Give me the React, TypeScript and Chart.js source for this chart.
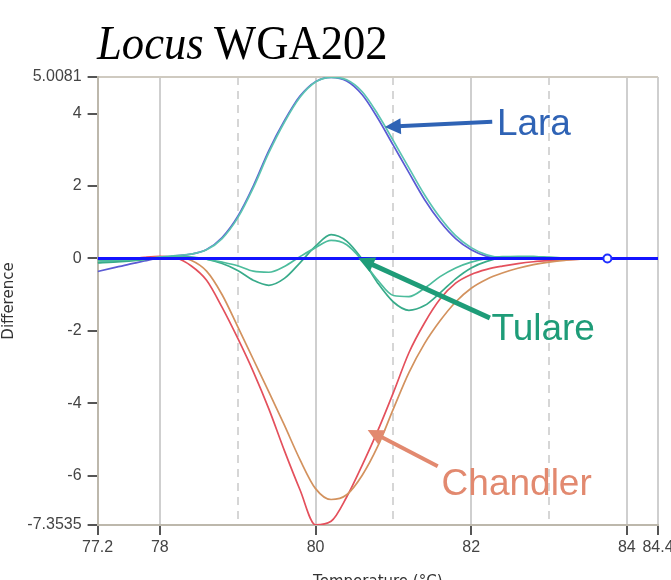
import React, { useEffect, useRef } from 'react';
import { Chart, registerables } from 'chart.js';
Chart.register(...registerables);

// ---- data ----
const TEMPS = [77.2, 77.4, 77.6, 77.8, 78.0, 78.2, 78.4, 78.6, 78.8, 79.0, 79.2, 79.4, 79.6, 79.8, 80.0, 80.2, 80.4, 80.6, 80.8, 81.0, 81.2, 81.4, 81.6, 81.8, 82.0, 82.2, 82.4, 82.6, 82.8, 83.0, 83.2, 83.4, 83.6, 83.8, 84.0, 84.2, 84.4];

const LARA_1 = [-0.36, -0.26, -0.16, -0.07, 0.02, 0.07, 0.12, 0.25, 0.58, 1.16, 2.0, 2.98, 3.8, 4.48, 4.88, 5.0, 4.9, 4.52, 3.87, 3.12, 2.37, 1.63, 1.02, 0.55, 0.24, 0.06, 0.01, 0, 0, 0, 0, 0, 0, 0, 0, 0, 0];
const LARA_2 = [-0.1, -0.08, -0.05, -0.02, 0.04, 0.08, 0.12, 0.24, 0.55, 1.12, 1.95, 2.92, 3.76, 4.45, 4.87, 5.0, 4.93, 4.6, 3.98, 3.25, 2.5, 1.76, 1.13, 0.63, 0.3, 0.1, 0.03, 0.03, 0.03, 0.02, 0.01, 0, 0, 0, 0, 0.02, 0.02];
const TULARE_1 = [-0.12, -0.1, -0.07, -0.03, 0.02, 0.05, 0.04, -0.02, -0.14, -0.33, -0.6, -0.74, -0.55, -0.12, 0.34, 0.66, 0.48, -0.02, -0.68, -1.2, -1.43, -1.3, -0.95, -0.56, -0.26, -0.08, 0.02, 0.05, 0.05, 0.03, 0.01, 0, 0, 0, 0.01, 0.02, 0.02];
const TULARE_2 = [-0.05, -0.05, -0.04, -0.02, 0.03, 0.05, 0.03, -0.02, -0.1, -0.2, -0.35, -0.38, -0.22, 0.05, 0.3, 0.5, 0.38, -0.05, -0.6, -1.02, -1.05, -0.82, -0.5, -0.26, -0.1, 0.0, 0.05, 0.05, 0.05, 0.03, 0.01, 0, 0, 0, 0.01, 0.02, 0.02];
const CHANDLER_1 = [-0.02, -0.04, -0.02, 0.03, 0.06, 0.02, -0.2, -0.6, -1.35, -2.2, -3.12, -4.15, -5.3, -6.38, -7.35, -7.25, -6.58, -5.7, -4.75, -3.7, -2.6, -1.78, -1.12, -0.68, -0.44, -0.3, -0.21, -0.14, -0.09, -0.06, -0.04, -0.02, 0, 0, 0, 0, 0];
const CHANDLER_2 = [-0.1, -0.08, -0.05, 0.0, 0.04, 0.03, -0.05, -0.35, -1.0, -1.88, -2.78, -3.68, -4.6, -5.55, -6.35, -6.65, -6.52, -5.98, -5.18, -4.15, -3.15, -2.35, -1.72, -1.2, -0.82, -0.57, -0.4, -0.27, -0.17, -0.1, -0.05, -0.02, 0, 0, 0, 0, 0];

const BASELINE_X = [77.2, 84.4];
const BASELINE_Y = [0, 0];
const MARKER_X = [83.75];
const MARKER_Y = [0];

const X_TICKS = [77.2, 78, 79, 80, 81, 82, 83, 84, 84.4];
const X_MINOR = [79, 81, 83];
const Y_TICKS = [-7.3535, -6, -4, -2, 0, 2, 4, 5.0081];

const TITLE_ITALIC = 'Locus';
const TITLE_REST = 'WGA202';
const X_TITLE = 'Temperature (°C)';
const Y_TITLE = 'Difference';

const NOTES = [
  { text: 'Lara', color: '#2f63b5', tx: 82.33, ty: 3.68, x0: 82.27, y0: 3.77, x1: 80.89, y1: 3.63, w: 4 },
  { text: 'Tulare', color: '#1e9c78', tx: 82.26, ty: -1.97, x0: 82.24, y0: -1.64, x1: 80.55, y1: 0.01, w: 5 },
  { text: 'Chandler', color: '#e2896f', tx: 81.62, ty: -6.25, x0: 81.57, y0: -5.73, x1: 80.67, y1: -4.73, w: 4 },
];

const pts = (ys: number[]) => TEMPS.map((x, i) => ({ x, y: ys[i] }));
const pairs = (xs: number[], ys: number[]) => xs.map((x, i) => ({ x, y: ys[i] }));

const notesPlugin = {
  id: 'notes',
  afterDatasetsDraw(chart: any) {
    const { ctx, scales } = chart;
    const sx = scales.x, sy = scales.y;
    ctx.save();
    NOTES.forEach((n) => {
      const ax = sx.getPixelForValue(n.x0), ay = sy.getPixelForValue(n.y0);
      const bx = sx.getPixelForValue(n.x1), by = sy.getPixelForValue(n.y1);
      const ang = Math.atan2(by - ay, bx - ax);
      const head = 16, hw = 8;
      const ex = bx - Math.cos(ang) * head * 0.8, ey = by - Math.sin(ang) * head * 0.8;
      ctx.strokeStyle = n.color;
      ctx.fillStyle = n.color;
      ctx.lineWidth = n.w;
      ctx.lineCap = 'butt';
      ctx.beginPath();
      ctx.moveTo(ax, ay);
      ctx.lineTo(ex, ey);
      ctx.stroke();
      ctx.beginPath();
      ctx.moveTo(bx, by);
      ctx.lineTo(bx - Math.cos(ang) * head + Math.sin(ang) * hw, by - Math.sin(ang) * head - Math.cos(ang) * hw);
      ctx.lineTo(bx - Math.cos(ang) * head - Math.sin(ang) * hw, by - Math.sin(ang) * head + Math.cos(ang) * hw);
      ctx.closePath();
      ctx.fill();
      ctx.font = '37px "Liberation Sans", Arial, sans-serif';
      ctx.textAlign = 'left';
      ctx.textBaseline = 'middle';
      ctx.fillText(n.text, sx.getPixelForValue(n.tx), sy.getPixelForValue(n.ty));
    });
    ctx.restore();
  },
};

export default function App() {
  const ref = useRef<HTMLCanvasElement>(null);
  useEffect(() => {
    const line = (label: string, ys: number[], color: string, order: number) => ({
      label, data: pts(ys), borderColor: color, backgroundColor: color, borderWidth: 1.7,
      pointRadius: 0, cubicInterpolationMode: 'monotone', order, fill: false,
    });
    const chart = new Chart(ref.current as HTMLCanvasElement, {
      type: 'line',
      data: {
        datasets: [
          { label: 'marker', data: pairs(MARKER_X, MARKER_Y), showLine: false, pointRadius: 4, pointStyle: 'circle', pointBorderColor: '#2030ff', pointBackgroundColor: '#ffffff', pointBorderWidth: 2, order: 0 } as any,
          { label: 'baseline', data: pairs(BASELINE_X, BASELINE_Y), borderColor: '#1414ff', borderWidth: 3, pointRadius: 0, order: 1 } as any,
          line('Tulare 2', TULARE_2, '#4cbc9c', 2),
          line('Tulare 1', TULARE_1, '#38ab8a', 3),
          line('Lara 2', LARA_2, '#5cc4b2', 4),
          line('Lara 1', LARA_1, '#5b5bd4', 5),
          line('Chandler 2', CHANDLER_2, '#d3925e', 6),
          line('Chandler 1', CHANDLER_1, '#e4505c', 7),
        ],
      },
      options: {
        responsive: false,
        maintainAspectRatio: false,
        devicePixelRatio: 1,
        animation: false,
        layout: { padding: { top: 77, right: 13, bottom: 0, left: 0 } },
        plugins: { legend: { display: false }, tooltip: { enabled: false }, title: { display: false } },
        scales: {
          x: {
            type: 'linear',
            min: 77.2,
            max: 84.4,
            afterBuildTicks: (s: any) => { s.ticks = X_TICKS.map((v) => ({ value: v })); },
            afterFit: (s: any) => { s.paddingLeft = 0; s.paddingRight = 0; s.height = 75; },
            ticks: {
              autoSkip: false, maxRotation: 0, minRotation: 0, padding: 3, color: '#444',
              font: { family: '"Liberation Sans", Arial, sans-serif', size: 16 },
              callback: (v: any) => (X_MINOR.includes(Number(v)) ? '' : String(v)),
            },
            grid: {
              color: (c: any) => (c.tick && c.tick.value === 77.2 ? 'rgba(0,0,0,0)' : (c.tick && X_MINOR.includes(c.tick.value) ? '#d6d6d6' : '#cfcfcf')),
              lineWidth: 2,
              tickLength: 10,
              tickWidth: 2,
              tickColor: (c: any) => (c.tick && X_MINOR.includes(c.tick.value) ? 'rgba(0,0,0,0)' : '#555'),
            },
            border: {
              color: '#bdb8ac', width: 2,
              dash: (c: any) => (c.tick && X_MINOR.includes(c.tick.value) ? [8, 6] : []),
            },
            title: {
              display: true, text: X_TITLE, color: '#333',
              font: { family: '"DejaVu Sans", sans-serif', size: 15 },
              padding: { top: 0, bottom: 9 },
            },
          },
          y: {
            type: 'linear',
            min: -7.3535,
            max: 5.0081,
            afterBuildTicks: (s: any) => { s.ticks = Y_TICKS.map((v) => ({ value: v })); },
            afterFit: (s: any) => { s.width = 97.6; s.paddingTop = 0; s.paddingBottom = 0; },
            ticks: {
              autoSkip: false, padding: 6, color: '#444',
              font: { family: '"Liberation Sans", Arial, sans-serif', size: 16 },
              callback: (v: any) => String(v),
            },
            grid: {
              color: (c: any) => (c.tick && c.tick.value === 5.0081 ? '#cfcac0' : 'rgba(0,0,0,0)'),
              lineWidth: 2,
              tickLength: 10,
              tickWidth: 2,
              tickColor: '#555',
            },
            border: { color: '#bdb8ac', width: 2 },
            title: {
              display: true, text: Y_TITLE, color: '#333',
              font: { family: '"DejaVu Sans", sans-serif', size: 15 },
              padding: 0,
            },
          },
        },
      } as any,
      plugins: [notesPlugin],
    });
    return () => chart.destroy();
  }, []);

  return (
    <div style={{ position: 'fixed', left: 0, top: 0, width: 671, height: 580, overflow: 'hidden', background: '#fff' }}>
      <canvas ref={ref} width={671} height={600} style={{ position: 'absolute', left: 0, top: 0, width: 671, height: 600 }} />
      <div style={{ position: 'absolute', left: 97, top: 19, fontFamily: '"Liberation Serif", "Times New Roman", serif', fontSize: 48, lineHeight: 1, whiteSpace: 'nowrap', transform: 'scaleX(0.93)', transformOrigin: 'left top', color: '#000' }}>
        <i>{TITLE_ITALIC}</i> {TITLE_REST}
      </div>
    </div>
  );
}
